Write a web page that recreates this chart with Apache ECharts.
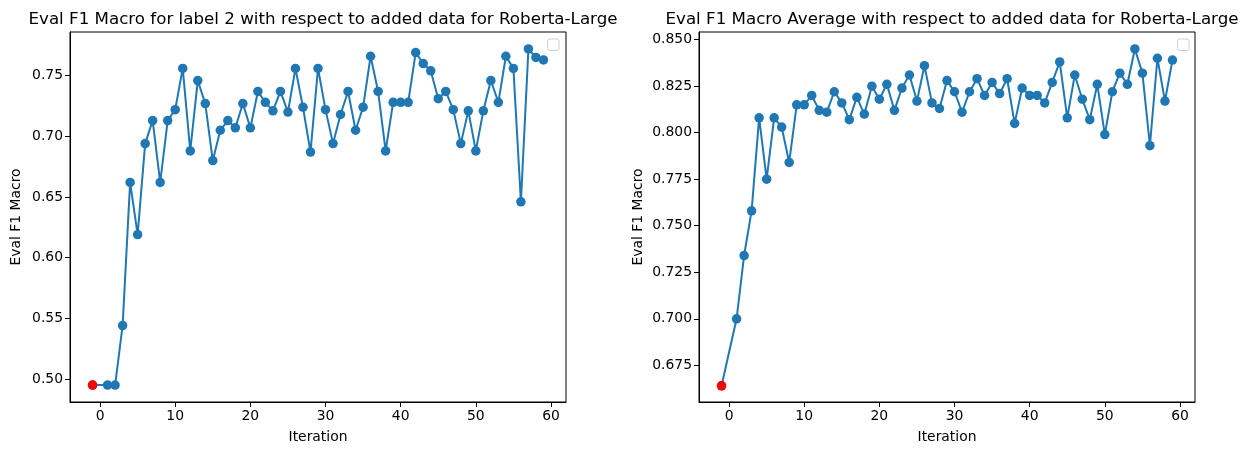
<!DOCTYPE html>
<html><head><meta charset="utf-8">
<script src="https://cdn.jsdelivr.net/npm/echarts@6/dist/echarts.min.js"></script>
<style>html,body{margin:0;padding:0;background:#fff}#c{width:1242px;height:456px}</style>
</head><body><div id="c"></div>
<script>
const iterations = [-1,1,2,3,4,5,6,7,8,9,10,11,12,13,14,15,16,17,18,19,20,21,22,23,24,25,26,27,28,29,30,31,32,33,34,35,36,37,38,39,40,41,42,43,44,45,46,47,48,49,50,51,52,53,54,55,56,57,58,59];
const label2F1 = [0.495,0.495,0.495,0.544,0.662,0.619,0.694,0.713,0.662,0.713,0.722,0.756,0.688,0.746,0.727,0.680,0.705,0.713,0.707,0.727,0.707,0.737,0.728,0.721,0.737,0.720,0.756,0.724,0.687,0.756,0.722,0.694,0.718,0.737,0.705,0.724,0.766,0.737,0.688,0.728,0.728,0.728,0.769,0.760,0.754,0.731,0.737,0.722,0.694,0.721,0.688,0.721,0.746,0.728,0.766,0.756,0.646,0.772,0.765,0.763];
const avgF1 = [0.664,0.700,0.734,0.758,0.808,0.775,0.808,0.803,0.784,0.815,0.815,0.820,0.812,0.811,0.822,0.816,0.807,0.819,0.810,0.825,0.818,0.826,0.812,0.824,0.831,0.817,0.836,0.816,0.813,0.828,0.822,0.811,0.822,0.829,0.820,0.827,0.821,0.829,0.805,0.824,0.820,0.820,0.816,0.827,0.838,0.808,0.831,0.818,0.807,0.826,0.799,0.822,0.832,0.826,0.845,0.832,0.793,0.840,0.817,0.839];
const baselineIter = [-1];
const baselineLabel2 = [0.495];
const baselineAvg = [0.664];
const xTicks = [0,10,20,30,40,50,60];
const yTicksLeft = [0.50,0.55,0.60,0.65,0.70,0.75];
const yTicksRight = [0.675,0.700,0.725,0.750,0.775,0.800,0.825,0.850];
const titles = ['Eval F1 Macro for label 2 with respect to added data for Roberta-Large','Eval F1 Macro Average with respect to added data for Roberta-Large'];
const xName = 'Iteration';
const yName = 'Eval F1 Macro';

const FONT = 'DejaVu Sans';
const grids = [
  {left:70, top:32, width:496, height:370},
  {left:699, top:32, width:496, height:370}
];
function xAxis(i){
  return {type:'value', gridIndex:i, min:-4, max:62,
    name:xName, nameLocation:'middle', nameGap:28,
    nameTextStyle:{fontFamily:FONT,fontSize:13.9,color:'#000'},
    splitLine:{show:false},
    axisLine:{show:true,onZero:false,lineStyle:{color:'#000',width:1}},
    axisTick:{show:true,inside:false,length:5,lineStyle:{color:'#000',width:1},customValues:xTicks},
    axisLabel:{fontFamily:FONT,fontSize:13.9,color:'#000',margin:7,customValues:xTicks,formatter:v=>String(v)}
  };
}
function yAxis(i,ticks,mn,mx,dec){
  return {type:'value', gridIndex:i, min:mn, max:mx,
    name:yName, nameLocation:'middle', nameGap: dec===2?47:54,
    nameTextStyle:{fontFamily:FONT,fontSize:13.9,color:'#000'},
    splitLine:{show:false},
    axisLine:{show:true,onZero:false,lineStyle:{color:'#000',width:1}},
    axisTick:{show:true,inside:false,length:5,lineStyle:{color:'#000',width:1},customValues:ticks},
    axisLabel:{fontFamily:FONT,fontSize:13.9,color:'#000',margin:7,customValues:ticks,formatter:v=>v.toFixed(dec)}
  };
}
function pairs(xs,ys){return xs.map((x,k)=>[x,ys[k]]);}
const chart = echarts.init(document.getElementById('c'),null,{renderer:'canvas'});
chart.setOption({
  animation:false,
  backgroundColor:'#fff',
  title:[
    {text:titles[0],left:318,textAlign:'center',top:6,textStyle:{fontFamily:FONT,fontSize:16.7,fontWeight:'normal',color:'#000'}},
    {text:titles[1],left:947,textAlign:'center',top:6,textStyle:{fontFamily:FONT,fontSize:16.7,fontWeight:'normal',color:'#000'}}
  ],
  grid:grids.map(g=>Object.assign({show:true,borderColor:'#000',borderWidth:1,backgroundColor:'#fff'},g)),
  xAxis:[xAxis(0),xAxis(1)],
  yAxis:[yAxis(0,yTicksLeft,0.481,0.786,2),yAxis(1,yTicksRight,0.6553,0.8541,3)],
  series:[
    {type:'line',xAxisIndex:0,yAxisIndex:0,data:pairs(iterations,label2F1),symbol:'circle',symbolSize:9.5,showSymbol:true,
      itemStyle:{color:'#1f77b4',opacity:1},lineStyle:{color:'#1f77b4',width:2}},
    {type:'scatter',xAxisIndex:0,yAxisIndex:0,data:pairs(baselineIter,baselineLabel2),symbolSize:9.5,itemStyle:{color:'#ff0000',opacity:1},z:3},
    {type:'line',xAxisIndex:1,yAxisIndex:1,data:pairs(iterations,avgF1),symbol:'circle',symbolSize:9.5,showSymbol:true,
      itemStyle:{color:'#1f77b4',opacity:1},lineStyle:{color:'#1f77b4',width:2}},
    {type:'scatter',xAxisIndex:1,yAxisIndex:1,data:pairs(baselineIter,baselineAvg),symbolSize:9.5,itemStyle:{color:'#ff0000',opacity:1},z:3}
  ],
  graphic:[
    {type:'rect',shape:{x:547.5,y:39,width:11.5,height:11.5,r:2},style:{fill:'#fff',stroke:'#d0d0d0',lineWidth:1}},
    {type:'rect',shape:{x:1177.5,y:39,width:11.5,height:11.5,r:2},style:{fill:'#fff',stroke:'#d0d0d0',lineWidth:1}}
  ]
});
</script></body></html>
